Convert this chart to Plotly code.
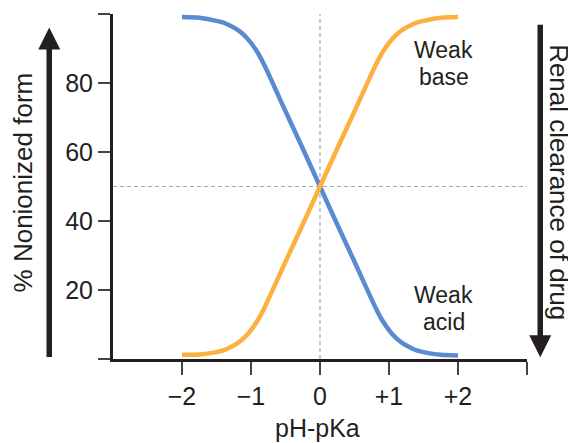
import plotly.graph_objects as go

# Data
ph_minus_pka = [-2.0, -1.75, -1.5, -1.4, -1.3, -1.2, -1.1, -1.0, -0.9, -0.8, -0.5, -0.25, 0.0,
                0.25, 0.5, 0.8, 0.9, 1.0, 1.1, 1.2, 1.3, 1.4, 1.5, 1.75, 2.0]
weak_acid = [99.1, 98.9, 98.0, 97.5, 96.6, 95.5, 93.9, 91.6, 88.7, 84.9, 71.8, 61.0, 50.0,
             39.0, 28.2, 15.1, 11.3, 8.4, 6.1, 4.5, 3.4, 2.5, 2.0, 1.2, 1.0]
weak_base = [1.2, 1.3, 2.0, 2.5, 3.4, 4.5, 6.1, 8.4, 11.3, 15.1, 28.2, 39.0, 50.0,
             61.0, 71.8, 84.9, 88.7, 91.6, 93.9, 95.5, 96.6, 97.5, 98.0, 98.9, 99.1]

x_tickvals = [-2, -1, 0, 1, 2, 3]
x_ticktext = ["\u22122", "\u22121", "0", "+1", "+2", ""]
y_tickvals = [0, 20, 40, 60, 80, 100]
y_ticktext = ["", "20", "40", "60", "80", ""]

INK = "#231f20"
FONT = "Liberation Sans, Arial, Helvetica, sans-serif"
BLUE = "#5a8ad2"
ORANGE = "#fbb040"

fig = go.Figure()
fig.add_trace(go.Scatter(x=ph_minus_pka, y=weak_acid, mode="lines",
                         line=dict(color=BLUE, width=4.5, shape="spline", smoothing=0.6),
                         name="Weak acid", showlegend=False, hoverinfo="skip"))
fig.add_trace(go.Scatter(x=ph_minus_pka, y=weak_base, mode="lines",
                         line=dict(color=ORANGE, width=4.5, shape="spline", smoothing=0.6),
                         name="Weak base", showlegend=False, hoverinfo="skip"))

# reference dashed lines
fig.add_shape(type="line", xref="x", yref="paper", x0=0, x1=0, y0=0, y1=1,
              line=dict(color="#a8a8a8", width=1.2, dash="4px,3px"), layer="below")
fig.add_shape(type="line", xref="paper", yref="y", x0=0, x1=1, y0=50, y1=50,
              line=dict(color="#a8a8a8", width=1.2, dash="4px,3px"), layer="below")

# page body has an 8px margin, so the figure is drawn 8px smaller and shifted
fig.update_layout(
    width=568, height=435,
    margin=dict(l=105, r=49, t=6, b=84),
    paper_bgcolor="white", plot_bgcolor="white",
    font=dict(family=FONT, size=25, color=INK),
    showlegend=False,
    xaxis=dict(range=[-3, 3], tickmode="array", tickvals=x_tickvals, ticktext=x_ticktext,
               showgrid=False, zeroline=False, showline=True, linecolor=INK, linewidth=3,
               ticks="outside", ticklen=13, tickwidth=2, tickcolor="#444",
               tickfont=dict(size=25, color=INK), automargin=False),
    yaxis=dict(range=[0, 100], tickmode="array", tickvals=y_tickvals, ticktext=y_ticktext,
               showgrid=False, zeroline=False, showline=True, linecolor=INK, linewidth=3,
               ticks="outside", ticklen=12, tickwidth=2, tickcolor="#444",
               tickfont=dict(size=25, color=INK), automargin=False),
)

ann = []
# axis titles
ann.append(dict(text="pH-pKa", xref="paper", yref="paper", x=0.495, y=-0.199,
                xanchor="center", yanchor="middle", showarrow=False, font=dict(size=25)))
ann.append(dict(text="% Nonionized form", xref="paper", yref="paper", x=-0.218, y=0.511,
                xanchor="center", yanchor="middle", textangle=-90, showarrow=False,
                font=dict(size=26)))
ann.append(dict(text="Renal clearance of drug", xref="paper", yref="paper", x=1.077, y=0.513,
                xanchor="center", yanchor="middle", textangle=90, showarrow=False,
                font=dict(size=26)))
# curve labels
for txt, xv, yv in [("Weak", 1.79, 89.5), ("base", 1.79, 81.8),
                    ("Weak", 1.79, 18.5), ("acid", 1.79, 10.8)]:
    ann.append(dict(text=txt, xref="x", yref="y", x=xv, y=yv, xanchor="center",
                    yanchor="middle", showarrow=False, font=dict(size=23)))
# arrows
ann.append(dict(text="", xref="paper", yref="paper", x=-0.154, y=0.961,
                ax=0, ay=331, axref="pixel", ayref="pixel", showarrow=True,
                arrowhead=2, arrowsize=0.8, arrowwidth=5.5, arrowcolor=INK, standoff=0))
ann.append(dict(text="", xref="paper", yref="paper", x=1.032, y=0.005,
                ax=0, ay=-334, axref="pixel", ayref="pixel", showarrow=True,
                arrowhead=2, arrowsize=0.8, arrowwidth=5.5, arrowcolor=INK, standoff=0))
fig.update_layout(annotations=ann)

fig.write_html("out.html")
